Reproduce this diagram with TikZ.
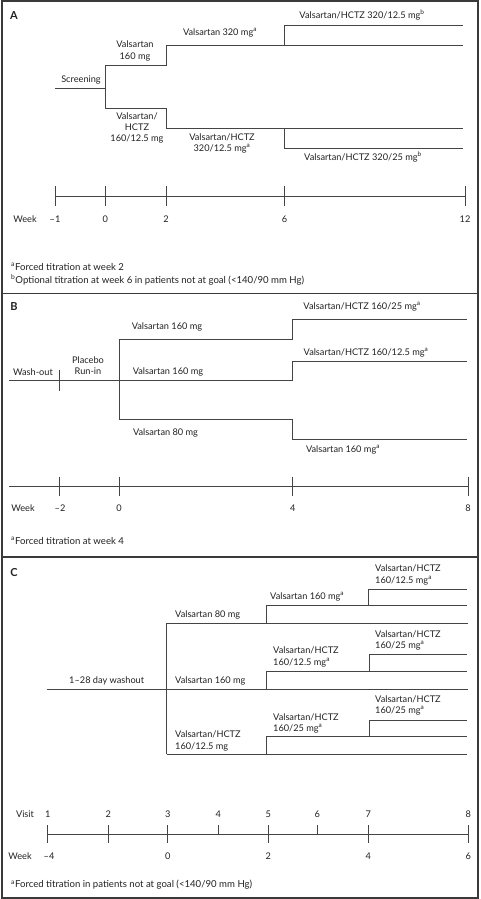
\documentclass[tikz,border=0pt]{standalone}
\usepackage{fontspec}
\setmainfont{Lato}
\definecolor{ln}{HTML}{444444}
\definecolor{txt}{HTML}{222222}
\definecolor{frm}{HTML}{3A3A3A}
\begin{document}
\begin{tikzpicture}[x=1pt,y=-1pt,
  lbl/.style={inner sep=0pt,text=txt,font=\fontsize{9.2}{11.2}\selectfont,align=center},
  lbll/.style={lbl,anchor=west,align=left},
  fn/.style={inner sep=0pt,text=txt,anchor=west,font=\fontsize{9.6}{11}\selectfont},
  panel/.style={inner sep=0pt,text=txt,font=\fontsize{11}{12}\bfseries\selectfont},
  tl/.style={draw=ln,line width=1pt}]
\useasboundingbox (0,0) rectangle (480,899);
\fill[white] (0,0) rectangle (480,899);
% frame
\draw[frm,line width=2pt] (1.5,1.5) rectangle (477.5,897.5);
\draw[frm,line width=1.5pt] (1.5,293.3) -- (477.5,293.3);
\draw[frm,line width=1.5pt] (1.5,557) -- (477.5,557);

%================ PANEL A
\node[panel] (pA) at (14,16) {A};
\draw[tl] (55,88.7) -- (105.3,88.7);
\draw[tl] (166,45.7) -- (166,65.7) -- (105.3,65.7) -- (105.3,108.3) -- (166,108.3) -- (166,128.3);
\draw[tl] (166,45.7) -- (463,45.7);
\draw[tl] (284,45.7) -- (284,25.7) -- (463,25.7);
\draw[tl] (166,128.3) -- (463,128.3);
\draw[tl] (284,128.3) -- (284,148.3) -- (463,148.3);
\node[lbl] (a1) at (81,80) {Screening};
\node[lbl] (a2) at (135,51) {Valsartan\\160 mg};
\node[lbl] (a3) at (220,33) {Valsartan 320 mg\textsuperscript{a}};
\node[lbl] (a4) at (362,15) {Valsartan/HCTZ 320/12.5 mg\textsuperscript{b}};
\node[lbl] (a5) at (137,128) {Valsartan/\\HCTZ\\160/12.5 mg};
\node[lbl] (a6) at (222,143.5) {Valsartan/HCTZ\\320/12.5 mg\textsuperscript{a}};
\node[lbl] (a7) at (363,157) {Valsartan/HCTZ 320/25 mg\textsuperscript{b}};
% timeline A
\draw[tl] (55,196.7) -- (465,196.7);
\foreach \x in {55,105.3,166,284.5,465} \draw[tl] (\x,186) -- (\x,206);
\node[lbl] (wA) at (25,219) {Week};
\node[lbl] at (55,219) {\textendash 1};
\node[lbl] at (105.3,219) {0};
\node[lbl] at (166,219) {2};
\node[lbl] at (284.5,219) {6};
\node[lbl] at (465,219) {12};
\node[fn] (fA1) at (11,267) {\textsuperscript{a}Forced titration at week 2};
\node[fn] (fA2) at (11,280) {\textsuperscript{b}Optional titration at week 6 in patients not at goal (<140/90 mm Hg)};

%================ PANEL B
\node[panel] (pB) at (14,307) {B};
\draw[tl] (9,380.7) -- (292.7,380.7) -- (292.7,361) -- (467,361);
\draw[tl] (59.3,370) -- (59.3,391);
\draw[tl] (119,339) -- (119,419.3);
\draw[tl] (119,339) -- (292.7,339) -- (292.7,319.3) -- (467,319.3);
\draw[tl] (119,419.3) -- (292.7,419.3) -- (292.7,439) -- (467,439);
\node[lbl] (b1) at (33,371.7) {Wash-out};
\node[lbl] (b2) at (88,366) {Placebo\\Run-in};
\node[lbl] (b3) at (167,326.7) {Valsartan 160 mg};
\node[lbl] (b4) at (168,371.7) {Valsartan 160 mg};
\node[lbl] (b5) at (165.5,433) {Valsartan 80 mg};
\node[lbl] (b6) at (362,306.7) {Valsartan/HCTZ 160/25 mg\textsuperscript{a}};
\node[lbl] (b7) at (366,352.7) {Valsartan/HCTZ 160/12.5 mg\textsuperscript{a}};
\node[lbl] (b8) at (343,450) {Valsartan 160 mg\textsuperscript{a}};
% timeline B
\draw[tl] (9,486) -- (468,486);
\foreach \x in {59.3,119,292.7,468} \draw[tl] (\x,476.7) -- (\x,495.7);
\node[lbl] (wB) at (23,508.3) {Week};
\node[lbl] at (60,508.3) {\textendash 2};
\node[lbl] at (119,508.3) {0};
\node[lbl] at (292.7,508.3) {4};
\node[lbl] at (468,508.3) {8};
\node[fn] (fB1) at (11,540.7) {\textsuperscript{a}Forced titration at week 4};

%================ PANEL C
\node[panel] (pC) at (14,572.7) {C};
\draw[tl] (166.7,623.3) -- (166.7,754);
\draw[tl] (166.7,623.3) -- (468,623.3);
\draw[tl] (266.3,623.3) -- (266.3,605.7) -- (467,605.7);
\draw[tl] (368.3,605.7) -- (368.3,589) -- (467,589);
\draw[tl] (46.7,689) -- (468,689);
\draw[tl] (266.3,689) -- (266.3,671.7) -- (467,671.7);
\draw[tl] (369,671.7) -- (369,654) -- (467,654);
\draw[tl] (166.7,754) -- (467,754);
\draw[tl] (266.3,754) -- (266.3,736.7) -- (467,736.7);
\draw[tl] (369,736.7) -- (369,720) -- (467,720);
\node[lbll] (c1) at (375,575) {Valsartan/HCTZ\\160/12.5 mg\textsuperscript{a}};
\node[lbll] (c2) at (270,596.7) {Valsartan 160 mg\textsuperscript{a}};
\node[lbll] (c3) at (175,615) {Valsartan 80 mg};
\node[lbll] (c4) at (375,640.5) {Valsartan/HCTZ\\160/25 mg\textsuperscript{a}};
\node[lbll] (c5) at (273,657) {Valsartan/HCTZ\\160/12.5 mg\textsuperscript{a}};
\node[lbl] (c6) at (106.7,681) {1\textendash 28 day washout};
\node[lbll] (c7) at (175,681) {Valsartan 160 mg};
\node[lbll] (c8) at (375,705.5) {Valsartan/HCTZ\\160/25 mg\textsuperscript{a}};
\node[lbll] (c9) at (273,723.5) {Valsartan/HCTZ\\160/25 mg\textsuperscript{a}};
\node[lbll] (c10) at (175,741) {Valsartan/HCTZ\\160/12.5 mg};
% timeline C
\draw[tl] (47.7,834) -- (468.3,834);
\foreach \x in {47.7,108.3,167.7,268.3,368.3,468.3} \draw[tl] (\x,825) -- (\x,843.3);
\foreach \x in {218.3,317.3} \draw[tl] (\x,825) -- (\x,834);
\node[lbl] (vC) at (25,814) {Visit};
\foreach \x/\v in {47.7/1,108.3/2,167.7/3,218.3/4,268.3/5,317.3/6,368.3/7,468.3/8}
  \node[lbl] at (\x,814) {\v};
\node[lbl] (wC) at (20,856) {Week};
\node[lbl] at (49,856) {\textendash 4};
\node[lbl] at (167.7,856) {0};
\node[lbl] at (268.3,856) {2};
\node[lbl] at (368.3,856) {4};
\node[lbl] at (468.3,856) {6};
\node[fn] (fC1) at (11,885) {\textsuperscript{a}Forced titration in patients not at goal (<140/90 mm Hg)};
\end{tikzpicture}
\end{document}
